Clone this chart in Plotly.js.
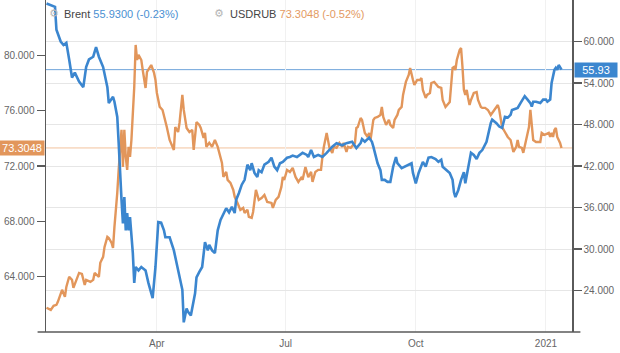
<!DOCTYPE html>
<html>
<head>
<meta charset="utf-8">
<script src="https://cdn.plot.ly/plotly-3.0.1.min.js"></script>
<style>
html,body{margin:0;padding:0;background:#fff;}
#chart{width:620px;height:353px;}
</style>
</head>
<body>
<div id="chart"></div>
<script>
// ---- Brent (right axis) ----
var brentDates = ["2020-01-14","2020-01-17","2020-01-20","2020-01-21","2020-01-24","2020-01-26","2020-01-28","2020-01-30","2020-02-01","2020-02-03","2020-02-06","2020-02-09","2020-02-11","2020-02-13","2020-02-16","2020-02-18","2020-02-20","2020-02-23","2020-02-26","2020-02-27","2020-03-01","2020-03-02","2020-03-04","2020-03-05","2020-03-06","2020-03-07","2020-03-08","2020-03-09","2020-03-10","2020-03-11","2020-03-12","2020-03-13","2020-03-15","2020-03-16","2020-03-17","2020-03-19","2020-03-21","2020-03-24","2020-03-26","2020-03-29","2020-03-31","2020-04-02","2020-04-04","2020-04-06","2020-04-07","2020-04-10","2020-04-13","2020-04-15","2020-04-19","2020-04-20","2020-04-22","2020-04-23","2020-04-25","2020-04-28","2020-04-29","2020-05-01","2020-05-03","2020-05-05","2020-05-07","2020-05-08","2020-05-10","2020-05-12","2020-05-14","2020-05-16","2020-05-19","2020-05-20","2020-05-22","2020-05-24","2020-05-26","2020-05-27","2020-05-29","2020-05-31","2020-06-02","2020-06-04","2020-06-06","2020-06-07","2020-06-09","2020-06-11","2020-06-12","2020-06-14","2020-06-16","2020-06-19","2020-06-21","2020-06-23","2020-06-25","2020-06-27","2020-06-29","2020-07-02","2020-07-04","2020-07-06","2020-07-09","2020-07-11","2020-07-13","2020-07-16","2020-07-17","2020-07-19","2020-07-21","2020-07-24","2020-07-27","2020-07-30","2020-08-03","2020-08-06","2020-08-10","2020-08-13","2020-08-17","2020-08-20","2020-08-23","2020-08-24","2020-08-26","2020-08-29","2020-08-31","2020-09-01","2020-09-02","2020-09-04","2020-09-06","2020-09-07","2020-09-09","2020-09-11","2020-09-13","2020-09-15","2020-09-17","2020-09-18","2020-09-21","2020-09-23","2020-09-26","2020-09-28","2020-09-29","2020-10-01","2020-10-03","2020-10-05","2020-10-06","2020-10-08","2020-10-10","2020-10-12","2020-10-15","2020-10-17","2020-10-19","2020-10-20","2020-10-23","2020-10-25","2020-10-27","2020-10-28","2020-10-29","2020-10-31","2020-11-02","2020-11-04","2020-11-05","2020-11-07","2020-11-09","2020-11-11","2020-11-13","2020-11-15","2020-11-17","2020-11-20","2020-11-21","2020-11-23","2020-11-24","2020-11-27","2020-11-29","2020-12-01","2020-12-03","2020-12-05","2020-12-07","2020-12-08","2020-12-11","2020-12-12","2020-12-14","2020-12-17","2020-12-19","2020-12-21","2020-12-22","2020-12-23","2020-12-25","2020-12-28","2020-12-30","2021-01-01","2021-01-02","2021-01-04","2021-01-05","2021-01-06","2021-01-07","2021-01-08","2021-01-09","2021-01-10","2021-01-11","2021-01-12"];
var brentValues = [65.5,65.3,65.0,61.7,60.0,59.5,59.8,57.4,54.8,55.5,54.2,53.4,56.3,57.4,57.8,59.2,57.8,56.3,53.4,51.1,52.0,51.3,49.1,45.3,40.4,37.1,33.7,37.5,32.7,35.2,32.7,34.6,29.4,25.1,27.4,26.9,27.4,26.9,25.1,22.9,27.4,33.9,33.8,32.7,31.7,31.7,29.8,27.9,24.1,19.4,21.4,20.9,20.4,23.6,25.9,26.7,27.4,31.0,29.8,30.6,29.8,29.4,32.7,34.2,35.6,35.9,35.3,36.1,35.2,37.1,38.1,39.3,40.0,42.2,41.4,42.4,41.0,40.4,41.4,41.1,42.2,42.6,43.2,41.9,41.4,42.4,42.6,43.2,43.3,43.5,43.3,43.6,43.9,43.6,43.3,44.3,43.3,43.6,43.3,43.9,44.8,45.3,45.0,45.3,45.5,44.6,45.3,45.9,45.5,46.1,45.5,44.8,43.9,42.4,41.4,40.0,40.0,39.7,39.7,41.9,43.3,42.4,41.7,41.9,42.2,42.4,41.0,39.5,41.0,41.9,42.6,41.9,43.2,43.3,43.0,42.6,42.9,41.9,41.4,41.0,40.0,38.2,37.5,38.5,40.0,41.1,39.5,41.9,43.9,43.6,43.0,43.9,44.3,45.5,46.5,48.2,48.7,48.2,47.7,47.5,49.1,49.0,49.4,50.1,50.3,50.4,51.1,52.1,51.6,51.1,50.6,51.3,51.3,51.1,51.6,51.6,51.3,51.6,54.0,54.8,55.9,56.2,55.9,56.6,56.2,55.93];

// ---- USDRUB (left axis) ----
var rubDates = ["2020-01-14","2020-01-17","2020-01-19","2020-01-21","2020-01-22","2020-01-24","2020-01-25","2020-01-27","2020-01-28","2020-01-30","2020-02-01","2020-02-02","2020-02-04","2020-02-06","2020-02-08","2020-02-09","2020-02-10","2020-02-11","2020-02-14","2020-02-16","2020-02-17","2020-02-20","2020-02-21","2020-02-23","2020-02-24","2020-02-26","2020-02-27","2020-02-29","2020-03-01","2020-03-02","2020-03-03","2020-03-04","2020-03-05","2020-03-06","2020-03-07","2020-03-08","2020-03-09","2020-03-10","2020-03-11","2020-03-12","2020-03-13","2020-03-14","2020-03-15","2020-03-16","2020-03-17","2020-03-18","2020-03-19","2020-03-21","2020-03-22","2020-03-23","2020-03-24","2020-03-25","2020-03-27","2020-03-28","2020-03-30","2020-03-31","2020-04-01","2020-04-03","2020-04-05","2020-04-06","2020-04-08","2020-04-10","2020-04-11","2020-04-13","2020-04-14","2020-04-16","2020-04-17","2020-04-18","2020-04-19","2020-04-20","2020-04-22","2020-04-24","2020-04-26","2020-04-27","2020-04-28","2020-04-29","2020-05-01","2020-05-02","2020-05-04","2020-05-05","2020-05-06","2020-05-08","2020-05-10","2020-05-12","2020-05-14","2020-05-15","2020-05-17","2020-05-18","2020-05-20","2020-05-21","2020-05-23","2020-05-25","2020-05-26","2020-05-28","2020-05-30","2020-06-01","2020-06-02","2020-06-04","2020-06-05","2020-06-07","2020-06-08","2020-06-10","2020-06-12","2020-06-14","2020-06-16","2020-06-18","2020-06-21","2020-06-22","2020-06-24","2020-06-26","2020-06-28","2020-06-29","2020-06-30","2020-07-02","2020-07-04","2020-07-06","2020-07-08","2020-07-10","2020-07-12","2020-07-13","2020-07-15","2020-07-17","2020-07-19","2020-07-20","2020-07-22","2020-07-24","2020-07-26","2020-07-27","2020-07-28","2020-07-30","2020-07-31","2020-08-01","2020-08-03","2020-08-04","2020-08-06","2020-08-08","2020-08-10","2020-08-11","2020-08-13","2020-08-14","2020-08-16","2020-08-19","2020-08-20","2020-08-21","2020-08-23","2020-08-24","2020-08-26","2020-08-28","2020-08-29","2020-08-30","2020-09-01","2020-09-02","2020-09-04","2020-09-06","2020-09-07","2020-09-08","2020-09-10","2020-09-12","2020-09-13","2020-09-15","2020-09-16","2020-09-18","2020-09-19","2020-09-21","2020-09-22","2020-09-24","2020-09-26","2020-09-27","2020-09-29","2020-09-30","2020-10-02","2020-10-04","2020-10-05","2020-10-06","2020-10-08","2020-10-09","2020-10-11","2020-10-12","2020-10-14","2020-10-16","2020-10-17","2020-10-19","2020-10-20","2020-10-22","2020-10-23","2020-10-25","2020-10-27","2020-10-28","2020-10-29","2020-10-30","2020-11-01","2020-11-02","2020-11-03","2020-11-04","2020-11-05","2020-11-06","2020-11-07","2020-11-08","2020-11-09","2020-11-11","2020-11-13","2020-11-14","2020-11-16","2020-11-17","2020-11-19","2020-11-21","2020-11-23","2020-11-24","2020-11-26","2020-11-28","2020-11-29","2020-11-30","2020-12-01","2020-12-03","2020-12-05","2020-12-07","2020-12-08","2020-12-09","2020-12-11","2020-12-12","2020-12-13","2020-12-15","2020-12-16","2020-12-18","2020-12-20","2020-12-21","2020-12-22","2020-12-23","2020-12-25","2020-12-28","2020-12-29","2020-12-31","2021-01-03","2021-01-04","2021-01-05","2021-01-06","2021-01-07","2021-01-08","2021-01-09","2021-01-11","2021-01-12"];
var rubValues = [61.75,61.6,61.89,61.96,62.18,62.83,63.05,62.54,63.26,63.99,63.77,63.19,63.77,64.27,64.2,63.77,63.41,63.77,63.62,63.77,64.27,63.99,65.0,65.43,66.15,66.88,66.8,66.44,66.08,67.6,68.61,70.06,71.72,73.67,74.61,71.93,74.61,72.66,71.72,73.38,72.66,73.88,75.55,77.71,80.75,79.66,80.03,79.66,78.94,78.22,77.64,78.8,79.16,79.3,78.73,78.22,77.28,76.27,76.05,75.55,74.82,73.88,73.67,73.16,74.82,74.46,75.11,76.05,77.14,76.05,74.75,74.46,74.61,73.16,74.39,75.18,74.97,74.75,74.03,74.39,73.38,73.67,73.38,73.88,73.38,72.95,72.22,71.21,71.57,71.0,70.78,70.27,69.77,69.33,68.83,68.97,68.61,68.83,68.32,68.25,68.68,70.27,69.55,69.69,69.91,69.4,69.33,68.97,69.55,69.77,70.49,71.21,70.99,71.72,71.57,71.86,71.21,70.85,71.14,71.0,71.93,71.2,71.57,70.85,71.57,71.72,71.72,72.66,73.38,74.39,73.88,73.31,72.95,73.38,73.31,73.67,73.38,73.67,73.02,73.38,73.31,73.67,74.75,74.82,75.47,75.33,74.39,74.1,74.39,73.88,75.33,75.47,75.55,75.69,76.27,75.55,74.97,75.33,74.97,74.75,75.33,75.69,76.05,76.27,77.14,78.08,78.58,79.09,78.22,77.86,78.22,78.22,78.36,77.5,76.92,77.14,77.28,78.0,78.08,77.86,77.71,77.64,76.77,76.27,76.41,76.63,79.09,79.16,78.94,79.66,80.39,80.53,79.16,77.5,77.14,77.5,76.92,76.41,76.77,77.28,77.35,76.77,76.27,76.2,76.2,76.05,75.69,75.84,76.05,76.41,76.05,75.33,74.82,74.46,74.1,73.88,73.38,73.02,73.38,73.88,73.38,73.31,72.95,73.88,74.82,76.05,74.97,73.88,73.74,73.74,74.39,74.25,74.39,74.1,74.39,74.1,74.61,74.75,74.1,73.67,73.3048];

// ---- axis ticks / labels ----
var leftTicks = [64, 68, 72, 76, 80];
var rightTicks = [24, 30, 36, 42, 48, 54, 60];
var xTickVals = ["2020-04-01", "2020-07-01", "2020-10-01", "2021-01-01"];
var xTickText = ["Apr", "Jul", "Oct", "2021"];
var brentLast = 55.93, brentLabel = "55.9300 (-0.23%)";
var rubLast = 73.3048, rubLabel = "73.3048 (-0.52%)";

var BLUE = "#3b86cf", ORANGE = "#e2965b", AXIS = "#5a5a5a", TXT = "#666";
var FONT = "Liberation Sans, Arial, sans-serif";

var traces = [
  {x: rubDates, y: rubValues, type: "scatter", mode: "lines", yaxis: "y",
   line: {color: ORANGE, width: 2.4}, name: "USDRUB", hoverinfo: "skip"},
  {x: brentDates, y: brentValues, type: "scatter", mode: "lines", yaxis: "y2",
   line: {color: BLUE, width: 2.6}, name: "Brent", hoverinfo: "skip"}
];

var layout = {
  width: 620, height: 353,
  margin: {l: 46, r: 48, t: 0, b: 21, pad: 0},
  paper_bgcolor: "#fff", plot_bgcolor: "#fff",
  showlegend: false,
  font: {family: FONT, size: 10, color: TXT},
  xaxis: {
    type: "date", range: ["2020-01-13 15:00", "2021-01-19 10:00"],
    tickvals: xTickVals, ticktext: xTickText,
    showgrid: true, gridcolor: "#f1f1f1", gridwidth: 1,
    showline: false, ticks: "", zeroline: false, ticklabelstandoff: 4,
    tickfont: {family: FONT, size: 10, color: TXT}
  },
  yaxis: {
    range: [60, 84], tickvals: leftTicks, tickformat: ".3f",
    showgrid: false, zeroline: false,
    showline: true, linecolor: AXIS, linewidth: 1.5,
    ticks: "outside", ticklen: 8, tickcolor: AXIS, tickwidth: 1.5,
    tickfont: {family: FONT, size: 10, color: TXT}
  },
  yaxis2: {
    range: [18, 66], tickvals: rightTicks, tickformat: ".3f",
    overlaying: "y", side: "right",
    showgrid: true, gridcolor: "#e6e6e6", gridwidth: 1, zeroline: false,
    showline: true, linecolor: AXIS, linewidth: 1.5,
    ticks: "outside", ticklen: 8, tickcolor: AXIS, tickwidth: 1.5,
    tickfont: {family: FONT, size: 10, color: TXT}
  },
  shapes: [
    {type: "line", xref: "paper", x0: 0, x1: 1, yref: "y2", y0: brentLast, y1: brentLast,
     line: {color: "#6ea4da", width: 1}, layer: "below"},
    {type: "line", xref: "paper", x0: 0, x1: 1, yref: "y", y0: rubLast, y1: rubLast,
     line: {color: "#f2c29e", width: 1}, layer: "below"},
    {type: "line", xref: "paper", yref: "paper", x0: -0.016, x1: 1.016, y0: 0, y1: 0,
     line: {color: AXIS, width: 1.5}}
  ],
  annotations: [
    {xref: "paper", yref: "paper", x: 8/526, y: 1 - 14/332, xanchor: "center", yanchor: "middle",
     text: "⚙", showarrow: false, font: {family: "DejaVu Sans", size: 11, color: "#b5b5b5"}},
    {xref: "paper", yref: "paper", x: 16/526, y: 1 - 14/332, xanchor: "left", yanchor: "middle",
     text: "Brent <span style='color:" + "#4a90d2" + "'>" + brentLabel + "</span>",
     showarrow: false, font: {family: FONT, size: 11, color: "#444"}},
    {xref: "paper", yref: "paper", x: 173/526, y: 1 - 14/332, xanchor: "center", yanchor: "middle",
     text: "⚙", showarrow: false, font: {family: "DejaVu Sans", size: 11, color: "#b5b5b5"}},
    {xref: "paper", yref: "paper", x: 182/526, y: 1 - 14/332, xanchor: "left", yanchor: "middle",
     text: "USDRUB <span style='color:" + "#e39a62" + "'>" + rubLabel + "</span>",
     showarrow: false, font: {family: FONT, size: 11, color: "#444"}},
    {xref: "paper", yref: "y2", x: 1, y: brentLast, xanchor: "left", yanchor: "middle", xshift: 2,
     text: brentLast.toFixed(2), showarrow: false, bgcolor: BLUE, borderpad: 1,
     width: 40, align: "center",
     font: {family: FONT, size: 11, color: "#fff"}},
    {xref: "paper", yref: "y", x: 0, y: rubLast, xanchor: "right", yanchor: "middle", xshift: -1,
     text: rubLast.toFixed(4), showarrow: false, bgcolor: ORANGE, borderpad: 1,
     width: 42, align: "center",
     font: {family: FONT, size: 11, color: "#fff"}}
  ]
};

Plotly.newPlot("chart", traces, layout, {displayModeBar: false, staticPlot: true});
</script>
</body>
</html>
